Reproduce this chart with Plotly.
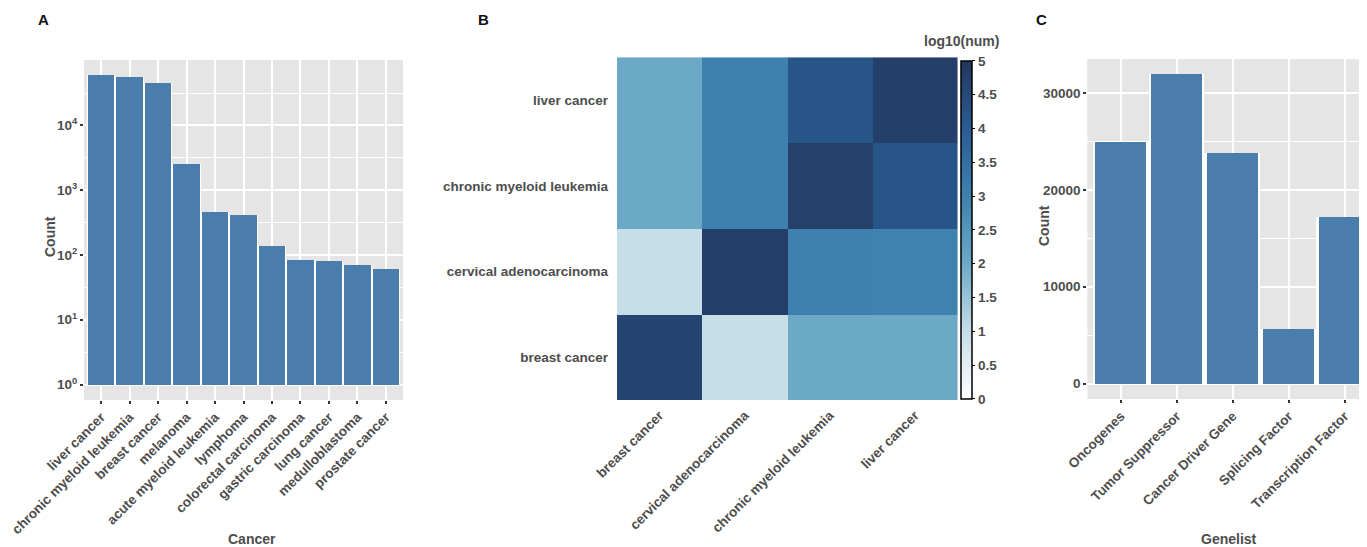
import plotly.graph_objects as go
import math

# ---------------- data ----------------
cancer_names = ["liver cancer", "chronic myeloid leukemia", "breast cancer", "melanoma",
                "acute myeloid leukemia", "lymphoma", "colorectal carcinoma",
                "gastric carcinoma", "lung cancer", "medulloblastoma", "prostate cancer"]
cancer_counts = [59000, 56000, 44500, 2500, 460, 412, 137, 84, 81, 68, 59]

heat_labels = ["breast cancer", "cervical adenocarcinoma", "chronic myeloid leukemia", "liver cancer"]
# rows listed bottom -> top (breast, cervical, CML, liver); columns left -> right
heat_row_breast = [4.65, 1.0, 2.0, 2.0]
heat_row_cervical = [1.0, 4.8, 3.0, 2.95]
heat_row_cml = [2.0, 3.0, 4.75, 4.2]
heat_row_liver = [2.0, 3.0, 4.2, 4.77]

gene_lists = ["Oncogenes", "Tumor Suppressor", "Cancer Driver Gene", "Splicing Factor", "Transcription Factor"]
gene_counts = [24920, 31930, 23780, 5650, 17230]

log_tick_exps = [0, 1, 2, 3, 4]
cbar_ticks = [0, 0.5, 1, 1.5, 2, 2.5, 3, 3.5, 4, 4.5, 5]

# ---------------- style ----------------
PAGE_OFF = 8          # default page margin of the browser
W, H = 1367 - PAGE_OFF, 547 - PAGE_OFF
BAR = "#4a7dab"
PANEL = "#e5e5e5"
TXT = "#4d4d4d"
FONT = "Liberation Sans"
tickfont = dict(family=FONT, size=13.5, color=TXT, weight="bold")

def px_x(x):
    return (x - PAGE_OFF) / W

def px_y(y):
    return 1 - (y - PAGE_OFF) / H

fig = go.Figure()

# Panel A: white backing bars (for white gaps) + bars
fig.add_trace(go.Bar(x=cancer_names, y=cancer_counts, base=1, width=1.0,
                     marker=dict(color="white", line=dict(width=0)),
                     xaxis="x", yaxis="y", showlegend=False, hoverinfo="skip"))
fig.add_trace(go.Bar(x=cancer_names, y=cancer_counts, base=1, width=0.92,
                     marker=dict(color=BAR, line=dict(width=0)),
                     xaxis="x", yaxis="y", showlegend=False))

# Panel B: heatmap
z = [heat_row_breast, heat_row_cervical, heat_row_cml, heat_row_liver]
colorscale = [[0.0, "#ffffff"], [0.2, "#c6dee8"], [0.4, "#6ba9c6"],
              [0.6, "#3e81af"], [0.8, "#2a5c93"], [1.0, "#22375e"]]
fig.add_trace(go.Heatmap(
    z=z, x=heat_labels, y=heat_labels, zmin=0, zmax=5, colorscale=colorscale,
    xaxis="x2", yaxis="y2", xgap=0, ygap=0,
    colorbar=dict(
        x=px_x(960.7), xanchor="left", xpad=0,
        y=px_y(229.9), yanchor="middle", ypad=0,
        len=338, lenmode="pixels", thickness=11, thicknessmode="pixels",
        outlinewidth=1.5, outlinecolor="black",
        ticks="outside", ticklen=3, tickcolor="black", tickwidth=1,
        tickvals=cbar_ticks, ticktext=[("%g" % v) for v in cbar_ticks],
        tickfont=tickfont,
    ),
))

# Panel C
fig.add_trace(go.Bar(x=gene_lists, y=gene_counts, width=1.0,
                     marker=dict(color="white", line=dict(width=0)),
                     xaxis="x3", yaxis="y3", showlegend=False, hoverinfo="skip"))
fig.add_trace(go.Bar(x=gene_lists, y=gene_counts, width=0.905,
                     marker=dict(color=BAR, line=dict(width=0)),
                     xaxis="x3", yaxis="y3", showlegend=False))

lmax = math.log10(max(cancer_counts))
cmax = max(gene_counts)

common_x = dict(type="category", tickangle=-45, tickfont=tickfont, showline=False, zeroline=False,
                ticks="outside", ticklen=3, tickwidth=1.5, tickcolor="#333333", automargin=False,
                showgrid=True, gridcolor="white", gridwidth=2)

fig.update_layout(
    template="none",
    width=W, height=H, margin=dict(l=0, r=0, t=0, b=0, pad=0), autosize=False,
    paper_bgcolor="white", plot_bgcolor=PANEL, barmode="overlay", bargap=0,
    showlegend=False,
    font=dict(family=FONT, color=TXT),
    xaxis=dict(common_x, domain=[px_x(84), px_x(403)], anchor="y",
               categoryorder="array", categoryarray=cancer_names,
               range=[-0.6, len(cancer_names) - 0.4]),
    yaxis=dict(type="log", domain=[px_y(400), px_y(60)], anchor="x", automargin=False,
               range=[-0.05 * lmax, 1.05 * lmax],
               tickvals=[10 ** e for e in log_tick_exps],
               ticktext=["10<sup>%d</sup>" % e for e in log_tick_exps],
               tickfont=tickfont, ticks="outside", ticklen=3, tickwidth=1.5, tickcolor="#333333",
               showgrid=True, gridcolor="white", gridwidth=2, zeroline=False, showline=False,
               minor=dict(tickvals=[10 ** (e + 0.5) for e in log_tick_exps],
                          showgrid=True, gridcolor="white", gridwidth=1, ticks="")),
    xaxis2=dict(type="category", domain=[px_x(617), px_x(957.5)], anchor="y2", automargin=False,
                categoryorder="array", categoryarray=heat_labels,
                tickangle=-45, tickfont=tickfont, ticks="", showgrid=False, zeroline=False,
                showline=False, ticklabelstandoff=4),
    yaxis2=dict(type="category", domain=[px_y(400), px_y(57.3)], anchor="x2", automargin=False,
                categoryorder="array", categoryarray=heat_labels,
                tickfont=tickfont, ticks="", showgrid=False, zeroline=False, showline=False,
                ticklabelstandoff=8),
    xaxis3=dict(common_x, domain=[px_x(1087.3), 1.0], anchor="y3",
                categoryorder="array", categoryarray=gene_lists,
                range=[-0.6, 4.4]),
    yaxis3=dict(domain=[px_y(399), px_y(59)], anchor="x3", automargin=False,
                range=[-0.05 * cmax, 1.05 * cmax],
                tickvals=[0, 10000, 20000, 30000], ticktext=["0", "10000", "20000", "30000"],
                tickfont=tickfont, ticks="outside", ticklen=3, tickwidth=1.5, tickcolor="#333333",
                showgrid=True, gridcolor="white", gridwidth=2, zeroline=False, showline=False,
                minor=dict(tickvals=[5000, 15000, 25000], showgrid=True,
                           gridcolor="white", gridwidth=1, ticks="")),
)

title_font = dict(family=FONT, size=14, color=TXT, weight="bold")
panel_font = dict(family=FONT, size=15, color="#111111", weight="bold")
ann = [
    dict(text="A", x=px_x(43), y=px_y(20), font=panel_font),
    dict(text="B", x=px_x(483), y=px_y(20), font=panel_font),
    dict(text="C", x=px_x(1041), y=px_y(20), font=panel_font),
    dict(text="Count", x=px_x(50), y=px_y(237), textangle=-90, font=title_font),
    dict(text="Cancer", x=px_x(252), y=px_y(539), font=title_font),
    dict(text="Count", x=px_x(1044), y=px_y(226), textangle=-90, font=title_font),
    dict(text="Genelist", x=px_x(1229), y=px_y(539), font=title_font),
    dict(text="log10(num)", x=px_x(961), y=px_y(41), font=title_font),
]
for a in ann:
    a.update(xref="paper", yref="paper", showarrow=False, xanchor="center", yanchor="middle")
fig.update_layout(annotations=ann)

fig.write_html("out.html")
